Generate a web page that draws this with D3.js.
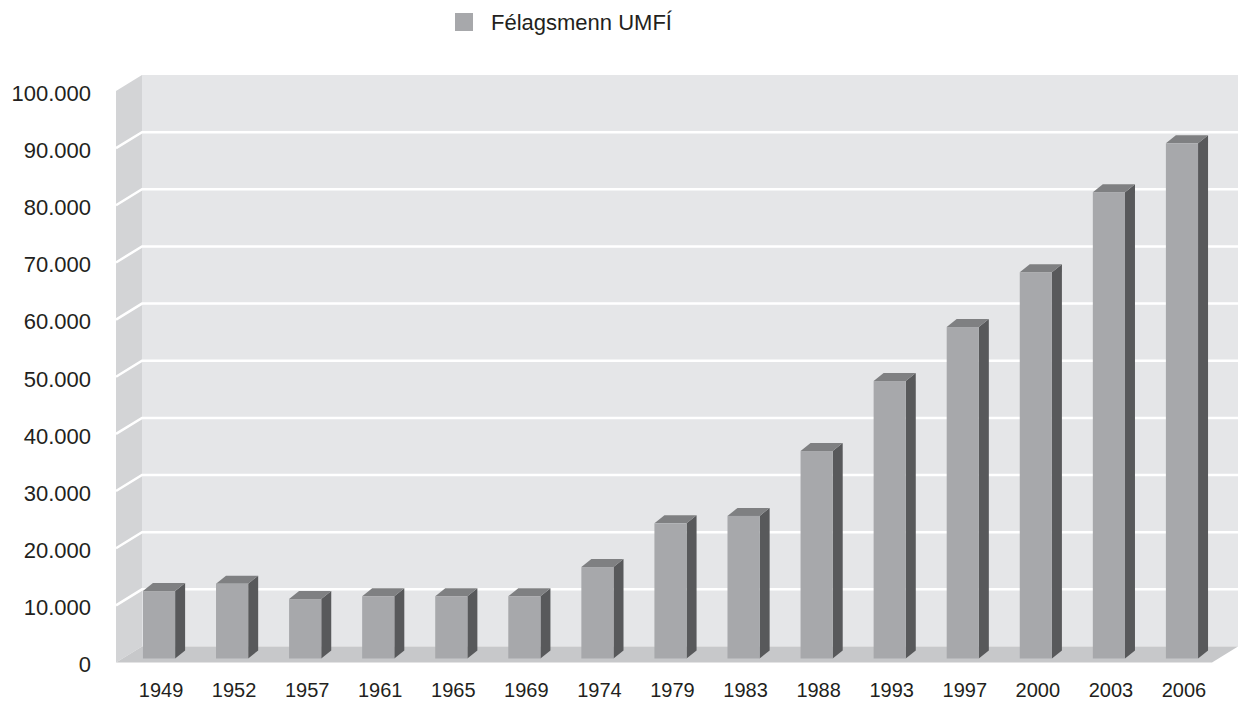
<!doctype html>
<html>
<head>
<meta charset="UTF-8">
<style>
  body { margin: 0; background: #fff; }
  svg text { font-family: "Liberation Sans", Arial, sans-serif; fill: #231f20; }
</style>
</head>
<body>
<svg id="chart" width="1238" height="702"></svg>
<script src="https://d3js.org/d3.v7.min.js"></script>
<script>
// data
var years = ["1949", "1952", "1957", "1961", "1965", "1969", "1974", "1979", "1983", "1988", "1993", "1997", "2000", "2003", "2006"];
var members = [11800, 13100, 10400, 10900, 10900, 10900, 16000, 23650, 24950, 36300, 48550, 58000, 67600, 81600, 90150];
var yTicks = [0, 10000, 20000, 30000, 40000, 50000, 60000, 70000, 80000, 90000, 100000];
var seriesName = "Félagsmenn UMFÍ";

var svg = d3.select("#chart");

// front plane of the 3d box, depth offset for the back wall
var left = 116, right = 1212, depthX = 26, depthY = -16;
var barDX = 6.5, barDY = -4;      // bars stand a bit behind the front edge
var sideDX = 10, sideDY = -8;     // bar depth

var y = d3.scaleLinear().domain([0, 100000]).range([662.5, 91]);
var x = d3.scaleBand().domain(years).range([left, right])
    .paddingInner(0.56).paddingOuter(0.28);

var nl = d3.formatLocale({ decimal: ",", thousands: ".", grouping: [3], currency: ["", ""] });
var fmt = nl.format(",");

var y0 = y(0), yTop = y(100000);

// walls
svg.append("polygon") // side wall
    .attr("points", [[left, y0], [left, yTop], [left + depthX, yTop + depthY], [left + depthX, y0 + depthY]].join(" "))
    .attr("fill", "#d3d4d6");
svg.append("rect") // back wall
    .attr("x", left + depthX).attr("y", yTop + depthY)
    .attr("width", 1238 - left - depthX).attr("height", y0 - yTop)
    .attr("fill", "#e5e6e8");
svg.append("polygon") // floor
    .attr("points", [[left, y0], [right, y0], [right + depthX, y0 + depthY], [left + depthX, y0 + depthY]].join(" "))
    .attr("fill", "#c7c8ca");

// gridlines
svg.append("g").selectAll("polyline")
    .data(yTicks.filter(function (d) { return d > 0 && d < 100000; }))
    .enter().append("polyline")
    .attr("points", function (d) {
        return [[left, y(d)], [left + depthX, y(d) + depthY], [1238, y(d) + depthY]].join(" ");
    })
    .attr("fill", "none")
    .attr("stroke", "#fff")
    .attr("stroke-width", 2.5);

// y axis
var yAxis = svg.append("g")
    .attr("transform", "translate(" + left + ",0)")
    .call(d3.axisLeft(y).tickValues(yTicks).tickFormat(fmt).tickSize(0).tickPadding(25));
yAxis.select(".domain").remove();
yAxis.selectAll("text")
    .attr("dy", "0.38em")
    .attr("y", 1)
    .style("font-size", "22px")
    .style("font-family", "'Liberation Sans', Arial, sans-serif")
    .attr("fill", "#231f20");

// bars
var bw = x.bandwidth();
var bars = svg.append("g").selectAll("g")
    .data(years.map(function (d, i) { return { year: d, value: members[i] }; }))
    .enter().append("g");

bars.append("polygon") // side face
    .attr("points", function (d) {
        var x1 = x(d.year) + barDX + bw, yb = y(0) + barDY, yt = y(d.value) + barDY;
        return [[x1, yb], [x1, yt], [x1 + sideDX, yt + sideDY], [x1 + sideDX, yb + sideDY]].join(" ");
    })
    .attr("fill", "#58595b");

bars.append("polygon") // top face
    .attr("points", function (d) {
        var x0 = x(d.year) + barDX, yt = y(d.value) + barDY;
        return [[x0, yt], [x0 + bw, yt], [x0 + bw + sideDX, yt + sideDY], [x0 + sideDX, yt + sideDY]].join(" ");
    })
    .attr("fill", "#7f8082");

bars.append("rect") // front face
    .attr("x", function (d) { return x(d.year) + barDX; })
    .attr("y", function (d) { return y(d.value) + barDY; })
    .attr("width", bw)
    .attr("height", function (d) { return y(0) - y(d.value); })
    .attr("fill", "#a7a8ab");

// x labels
svg.append("g").selectAll("text")
    .data(years)
    .enter().append("text")
    .attr("x", function (d) { return x(d) + barDX + bw / 2 + 2; })
    .attr("y", 697)
    .attr("text-anchor", "middle")
    .style("font-size", "20px")
    .text(function (d) { return d; });

// legend
svg.append("rect")
    .attr("x", 455).attr("y", 13).attr("width", 18).attr("height", 18)
    .attr("fill", "#a7a8ab");
svg.append("text")
    .attr("x", 491).attr("y", 30)
    .style("font-size", "22px")
    .text(seriesName);
</script>
</body>
</html>
